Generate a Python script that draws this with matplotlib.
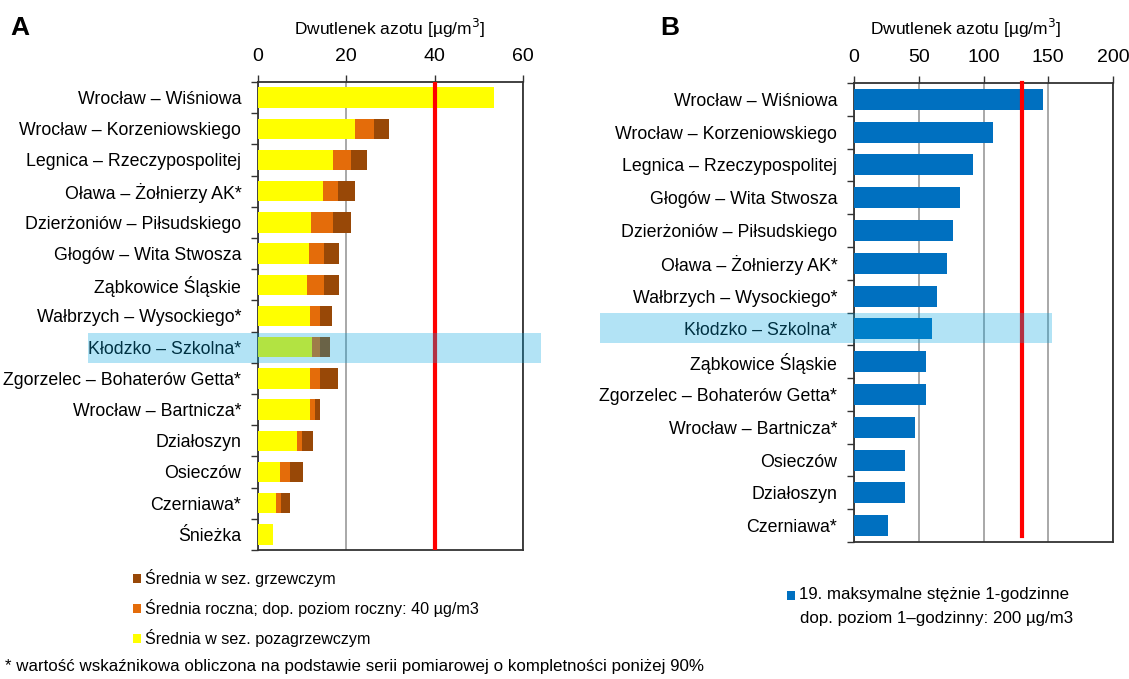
import matplotlib
matplotlib.use("Agg")
import matplotlib.pyplot as plt
from matplotlib.patches import Rectangle
import numpy as np

FONT = ['Liberation Sans', 'DejaVu Sans']
plt.rcParams['font.family'] = FONT

# ---------------- data ----------------
stations_a = ["Wrocław – Wiśniowa", "Wrocław – Korzeniowskiego", "Legnica – Rzeczypospolitej",
              "Oława – Żołnierzy AK*", "Dzierżoniów – Piłsudskiego", "Głogów – Wita Stwosza",
              "Ząbkowice Śląskie", "Wałbrzych – Wysockiego*", "Kłodzko – Szkolna*",
              "Zgorzelec – Bohaterów Getta*", "Wrocław – Bartnicza*", "Działoszyn",
              "Osieczów", "Czerniawa*", "Śnieżka"]
heating = [0, 29.6, 24.6, 21.9, 21.1, 18.4, 18.4, 16.7, 16.3, 18.2, 14.0, 12.5, 10.2, 7.3, 0]
annual = [0, 26.2, 21.0, 18.0, 16.9, 15.0, 15.0, 14.0, 14.0, 14.0, 12.9, 10.0, 7.2, 5.1, 0]
nonheating = [53.4, 22.0, 16.9, 14.8, 12.0, 11.5, 11.1, 11.8, 12.3, 11.8, 11.8, 8.8, 4.9, 4.1, 3.3]
xticks_a = [0, 20, 40, 60]
limit_a = 40

stations_b = ["Wrocław – Wiśniowa", "Wrocław – Korzeniowskiego", "Legnica – Rzeczypospolitej",
              "Głogów – Wita Stwosza", "Dzierżoniów – Piłsudskiego", "Oława – Żołnierzy AK*",
              "Wałbrzych – Wysockiego*", "Kłodzko – Szkolna*", "Ząbkowice Śląskie",
              "Zgorzelec – Bohaterów Getta*", "Wrocław – Bartnicza*", "Osieczów",
              "Działoszyn", "Czerniawa*"]
max19 = [146.1, 107.3, 92.1, 82.0, 76.1, 71.8, 64.0, 59.9, 55.6, 55.6, 47.3, 39.6, 39.6, 26.0]
xticks_b = [0, 50, 100, 150, 200]
limit_b = 130

C_BROWN = '#984807'
C_ORANGE = '#E46C0A'
C_YELLOW = '#FFFF00'
C_BLUE = '#0070C0'
C_RED = '#FF0000'
C_BAND = '#00A3DE'

W, H = 1129, 679
fig = plt.figure(figsize=(W / 100, H / 100), dpi=100)

LABEL_FS = 12.8


def px_axes(l, r, t, b):
    return fig.add_axes([l / W, 1 - b / H, (r - l) / W, (b - t) / H])


def style(ax, n, ticks, xmax):
    ax.set_xlim(0, xmax)
    ax.set_ylim(n - 0.5, -0.5)
    ax.xaxis.tick_top()
    ax.set_xticks(ticks)
    ax.set_xticklabels([str(t) for t in ticks])
    ax.tick_params(axis='x', which='major', direction='out', length=5, width=1, pad=7,
                   labelsize=14, color='#333333')
    ax.grid(axis='x', color='#9a9a9a', lw=1.2, zorder=0)
    ax.set_axisbelow(True)
    ax.set_yticks(np.arange(n))
    ax.set_yticks(np.arange(n + 1) - 0.5, minor=True)
    ax.tick_params(axis='y', which='major', length=0, pad=12, labelsize=LABEL_FS)
    ax.tick_params(axis='y', which='minor', length=5, width=1, color='#333333')
    for s in ax.spines.values():
        s.set_color('#333333')
        s.set_linewidth(1.3)


# ---------------- panel A ----------------
axA = px_axes(258, 523, 82, 550)
ya = np.arange(len(stations_a))
axA.barh(ya, heating, height=0.66, color=C_BROWN, zorder=2)
axA.barh(ya, annual, height=0.66, color=C_ORANGE, zorder=3)
axA.barh(ya, nonheating, height=0.66, color=C_YELLOW, zorder=4)
axA.axvline(limit_a, color=C_RED, lw=3, zorder=5)
style(axA, len(stations_a), xticks_a, 60)
axA.set_yticklabels(stations_a)

# ---------------- panel B ----------------
axB = px_axes(854, 1113, 83, 542)
yb = np.arange(len(stations_b))
axB.barh(yb, max19, height=0.64, color=C_BLUE, zorder=3)
axB.axvline(limit_b, ymin=0.012, ymax=1.0, color=C_RED, lw=3, zorder=5, clip_on=False)
style(axB, len(stations_b), xticks_b, 200)
axB.set_yticklabels(stations_b)

# ---------------- titles ----------------
fig.text(10 / W, 1 - 28 / H, "A", fontsize=19, fontweight='bold', va='center', ha='left')
fig.text(660 / W, 1 - 28 / H, "B", fontsize=19, fontweight='bold', va='center', ha='left')
fig.text(390 / W, 1 - 28 / H, "Dwutlenek azotu [µg/m$^3$]", fontsize=12.5, ha='center', va='center')
fig.text(966 / W, 1 - 28 / H, "Dwutlenek azotu [µg/m$^3$]", fontsize=12.5, ha='center', va='center')

# ---------------- highlight bands ----------------
fig.patches.append(Rectangle((88 / W, 1 - 362.7 / H), (541 - 88) / W, 29.4 / H,
                             transform=fig.transFigure, color=C_BAND, alpha=0.3, lw=0, zorder=10))
fig.patches.append(Rectangle((600 / W, 1 - 342.7 / H), (1052 - 600) / W, 29.4 / H,
                             transform=fig.transFigure, color=C_BAND, alpha=0.3, lw=0, zorder=10))

# ---------------- legends ----------------
leg_a = [(C_BROWN, "Średnia w sez. grzewczym"),
         (C_ORANGE, "Średnia roczna; dop. poziom roczny: 40 µg/m3"),
         (C_YELLOW, "Średnia w sez. pozagrzewczym")]
for i, (c, lab) in enumerate(leg_a):
    yc = 578 + i * 30
    fig.patches.append(Rectangle((133 / W, 1 - (yc + 4.5) / H), 8 / W, 9 / H,
                                 transform=fig.transFigure, color=c, lw=0))
    fig.text(145 / W, 1 - yc / H, lab, fontsize=11.6, va='center', ha='left')

fig.patches.append(Rectangle((787 / W, 1 - (595 + 4.5) / H), 8 / W, 9 / H,
                             transform=fig.transFigure, color=C_BLUE, lw=0))
fig.text(799 / W, 1 - 595 / H, "19. maksymalne stężnie 1-godzinne", fontsize=12.2, va='center', ha='left')
fig.text(800 / W, 1 - 618 / H, "dop. poziom 1–godzinny: 200 µg/m3", fontsize=12.2, va='center', ha='left')

fig.text(5 / W, 1 - 666 / H, "* wartość wskaźnikowa obliczona na podstawie serii pomiarowej o kompletności poniżej 90%",
         fontsize=12.2, va='center', ha='left')

fig.savefig("out.png", dpi=100)
